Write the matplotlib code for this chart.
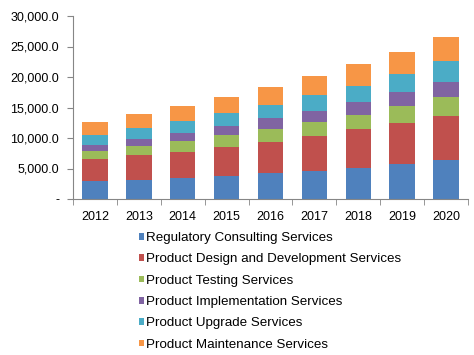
import matplotlib
matplotlib.use("Agg")
import matplotlib.pyplot as plt
import matplotlib.ticker as mticker
import numpy as np

plt.rcParams["font.family"] = ["Liberation Sans", "DejaVu Sans"]

# ── データ（画像から読み取った推定値） ──
years = ["2012", "2013", "2014", "2015", "2016", "2017", "2018", "2019", "2020"]
regulatory = [2900, 3060, 3440, 3820, 4200, 4640, 5140, 5790, 6340]
design_dev = [3600, 4100, 4260, 4750, 5200, 5760, 6260, 6710, 7260]
testing = [1400, 1580, 1860, 1930, 2100, 2200, 2400, 2700, 3100]
implementation = [1000, 1100, 1240, 1500, 1700, 1800, 2100, 2300, 2400]
upgrade = [1600, 1860, 2000, 2100, 2200, 2600, 2700, 3000, 3500]
maintenance = [2100, 2200, 2400, 2600, 2900, 3100, 3500, 3600, 4000]

series_names = [
    "Regulatory Consulting Services",
    "Product Design and Development Services",
    "Product Testing Services",
    "Product Implementation Services",
    "Product Upgrade Services",
    "Product Maintenance Services",
]
series_values = [regulatory, design_dev, testing, implementation, upgrade, maintenance]
colors = ["#4F81BD", "#C0504D", "#9BBB59", "#8064A2", "#4BACC6", "#F79646"]

fig = plt.figure(figsize=(4.74, 3.55), dpi=100)
fig.patch.set_facecolor("white")
ax = fig.add_axes([73 / 474, 1 - 199 / 355, 395 / 474, 183 / 355])

x = np.arange(len(years))
bottom = np.zeros(len(years))
for name, vals, c in zip(series_names, series_values, colors):
    ax.bar(x, vals, width=0.58, bottom=bottom, color=c, label=name)
    bottom += np.array(vals)

ax.set_xlim(-0.5, len(years) - 0.5)
ax.set_ylim(0, 30000)
ax.yaxis.set_major_locator(mticker.MultipleLocator(5000))
ax.yaxis.set_major_formatter(
    mticker.FuncFormatter(lambda v, _: "-" if v == 0 else f"{v:,.1f}"))

ax.set_xticks(x)
ax.set_xticklabels(years)
ax.set_xticks(np.arange(-0.5, len(years)), minor=True)
ax.tick_params(axis="x", which="major", length=0, pad=9, labelsize=9)
ax.tick_params(axis="x", which="minor", length=4, color="#868686")
ax.tick_params(axis="y", length=4, color="#868686", labelsize=9, pad=6)

for side in ("top", "right"):
    ax.spines[side].set_visible(False)
for side in ("left", "bottom"):
    ax.spines[side].set_color("#868686")

leg = ax.legend(loc="upper left", bbox_to_anchor=(139 / 474, 1 - 232 / 355),
                bbox_transform=fig.transFigure, frameon=False, fontsize=9.6,
                handlelength=0.4, handleheight=0.4, handletextpad=0.12,
                labelspacing=0.7, borderaxespad=0, borderpad=0)

fig.savefig("out.png", dpi=100)
